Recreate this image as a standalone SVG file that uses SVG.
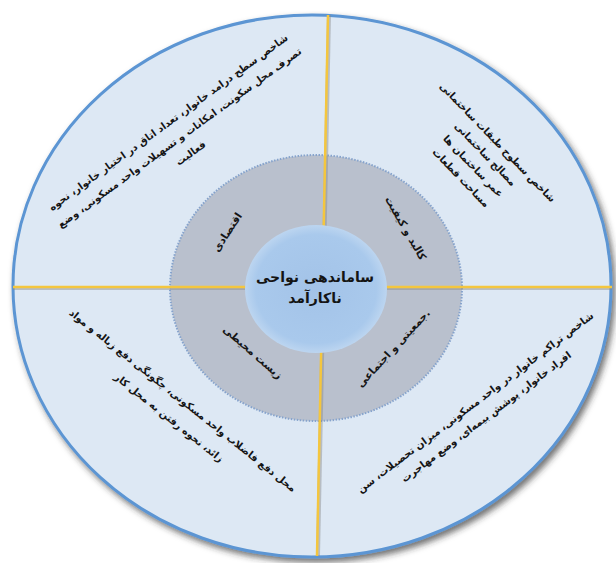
<svg xmlns="http://www.w3.org/2000/svg" width="616" height="563" viewBox="0 0 616 563">
<defs>
<filter id="sh" x="-10%" y="-10%" width="120%" height="120%">
<feDropShadow dx="3" dy="4" stdDeviation="3" flood-color="#2a2a2a" flood-opacity="0.65"/>
</filter>
<radialGradient id="cg" cx="50%" cy="50%" r="50%">
<stop offset="0" stop-color="#a3c3e8"/>
<stop offset="0.85" stop-color="#a9c9ec"/>
<stop offset="1" stop-color="#bcd5f0"/>
</radialGradient>
<style>
.t{font-family:"DejaVu Sans",sans-serif;fill:#141414;text-anchor:middle;font-weight:bold}
.o{font-size:10px}
.i{font-size:10.5px}
.c{font-size:14px}
.ln{stroke-linecap:butt;fill:none}
.ls{stroke:#8a8a8a;stroke-width:4;opacity:0.45}
.ly{stroke:#f4c63e;stroke-width:2.5}
</style>
</defs>
<rect width="616" height="563" fill="#ffffff"/>
<g id="outer">
<ellipse cx="312" cy="286" rx="299" ry="271" fill="#dde8f4" stroke="#5b95d3" stroke-width="3" filter="url(#sh)"/>
</g>
<g id="middle">
<ellipse cx="316" cy="288" rx="146" ry="133" fill="#b9c0cd" stroke="#86a3cc" stroke-width="2" stroke-dasharray="1.5 1.5"/>
</g>
<g id="connectors">
<line class="ln ls" x1="329" y1="15" x2="318" y2="556"/>
<line class="ln ly" x1="328" y1="15" x2="317" y2="556"/>
<line class="ln ls" x1="13" y1="288" x2="612" y2="288"/>
<line class="ln ly" x1="13" y1="287" x2="612" y2="287"/>
</g>
<g id="center">
<ellipse cx="316" cy="289" rx="71" ry="64" fill="url(#cg)"/>
<text class="t c" x="315" y="282">ساماندهی نواحی</text>
<text class="t c" x="315" y="303">ناکارآمد</text>
</g>
<g id="inner-economic">
<text class="t i" transform="translate(227,232) rotate(-57)" y="4">اقتصادی</text>
</g>
<g id="inner-physical">
<text class="t i" transform="translate(406,228) rotate(60)" y="4">کالبد و کیفیت</text>
</g>
<g id="inner-environment">
<text class="t i" transform="translate(253,352) rotate(41)" y="4">زیست محیطی</text>
</g>
<g id="inner-social">
<text class="t i" transform="translate(393,348) rotate(-47)" y="4">جمعیتی و اجتماعی.</text>
</g>
<g id="outer-economic" transform="translate(168,122) rotate(-36)">
<text class="t o" y="4">شاخص سطح درامد خانوار، تعداد اتاق در اختیار خانوار، نحوه</text>
<text class="t o" y="23">تصرف محل سکونت، امکانات و تسهیلات واحد مسکونی، وضع</text>
<text class="t o" y="42">فعالیت</text>
</g>
<g id="outer-physical" transform="translate(498,142) rotate(46)">
<text class="t o" y="4">شاخص سطوح طبقات ساختمانی</text>
<text class="t o" y="21">مصالح ساختمانی</text>
<text class="t o" y="38">عمر ساختمان ها</text>
<text class="t o" y="55">مساحت قطعات</text>
</g>
<g id="outer-environment" transform="translate(183,400) rotate(38.5)">
<text class="t o" y="4">محل دفع فاضلاب واحد مسکونی، چگونگی دفع زباله و مواد</text>
<text class="t o" y="26">زائد، نحوه رفتن به محل کار</text>
</g>
<g id="outer-social" transform="translate(475,402) rotate(-37)">
<text class="t o" y="4">شاخص تراکم خانوار در واحد مسکونی، میزان تحصیلات، سن</text>
<text class="t o" y="22">افراد خانوار، پوشش بیمه‌ای، وضع مهاجرت</text>
</g>
</svg>
